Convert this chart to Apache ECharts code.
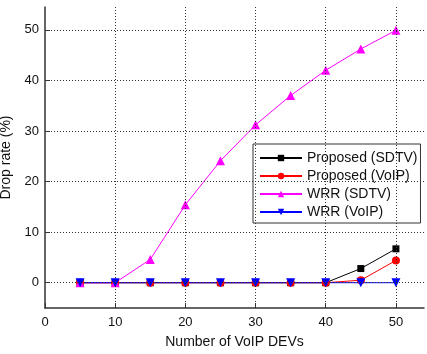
<!DOCTYPE html>
<html>
<head>
<meta charset="utf-8">
<script src="https://cdn.jsdelivr.net/npm/echarts@6/dist/echarts.min.js"></script>
<style>
html, body { margin: 0; padding: 0; background: #fff; }
#main { width: 427px; height: 354px; }
</style>
</head>
<body>
<div id="main"></div>
<script>
// x positions: number of VoIP devices
var devs = [5, 10, 15, 20, 25, 30, 35, 40, 45, 50];
// drop rate (%) per series
var propSdtv = [0, 0, 0, 0, 0, 0, 0, 0, 2.8, 6.7];
var propVoip = [0, 0, 0, 0, 0, 0, 0, 0, 0.5, 4.4];
var wrrSdtv = [0, 0, 4.6, 15.4, 24.1, 31.2, 37, 42, 46.2, 49.9];
var wrrVoip = [0, 0, 0, 0, 0, 0, 0, 0, 0, 0];
var xTicks = [0, 10, 20, 30, 40, 50];
var yTicks = [0, 10, 20, 30, 40, 50];
var names = ['Proposed (SDTV)', 'Proposed (VoIP)', 'WRR (SDTV)', 'WRR (VoIP)'];

function pairs(ys) {
	var out = [];
	for (var i = 0; i < devs.length; i++) {
		out.push([devs[i], ys[i]]);
	}
	return out;
}

var font = 'Liberation Sans, Arial, sans-serif';
var dotted = { color: '#333', width: 1, type: [1, 2] };

// grid lines drawn as mark lines so they sit only on the labelled ticks
var gridLines = [];
for (var i = 0; i < yTicks.length; i++) gridLines.push({ yAxis: yTicks[i] });
for (var j = 1; j < xTicks.length; j++) gridLines.push({ xAxis: xTicks[j] });

function lineSeries(name, ys, color, symbol, rotate, size) {
	return {
		name: name,
		type: 'line',
		data: pairs(ys),
		symbol: symbol,
		symbolRotate: rotate,
		symbolSize: size,
		showAllSymbol: true,
		lineStyle: { color: color, width: 1 },
		itemStyle: { color: color },
		emphasis: { disabled: true },
		z: 3
	};
}

var myChart = echarts.init(document.getElementById('main'));
myChart.setOption({
	animation: false,
	textStyle: { fontFamily: font },
	grid: { left: 45, right: 3, top: 7, bottom: 46, containLabel: false, outerBoundsMode: 'none' },
	legend: {
		data: names,
		orient: 'vertical',
		left: 253,
		top: 144,
		padding: [6, 3, 3, 6],
		itemGap: 2,
		itemWidth: 42,
		itemHeight: 8,
		backgroundColor: '#fff',
		borderColor: '#333',
		borderWidth: 1,
		borderRadius: 0,
		textStyle: { fontSize: 14, lineHeight: 16, color: '#111', fontFamily: font }
	},
	xAxis: {
		type: 'value',
		min: 0,
		max: 54,
		name: 'Number of VoIP DEVs',
		nameLocation: 'middle',
		nameGap: 27,
		nameTextStyle: { fontSize: 14, color: '#111' },
		axisLine: { onZero: false, lineStyle: { color: '#333', width: 1.5 } },
		axisTick: { inside: true, length: 5, customValues: xTicks, lineStyle: { color: '#333' } },
		minorTick: { show: false },
		axisLabel: { customValues: xTicks, fontSize: 13, color: '#111', margin: 8 },
		splitLine: { show: false }
	},
	yAxis: {
		type: 'value',
		min: -5,
		max: 54.5,
		name: 'Drop rate (%)',
		nameLocation: 'middle',
		nameGap: 24,
		nameTextStyle: { fontSize: 14, color: '#111' },
		axisLine: { show: true, onZero: false, lineStyle: { color: '#333', width: 1.5 } },
		axisTick: { show: true, inside: true, length: 5, customValues: yTicks, lineStyle: { color: '#333' } },
		axisLabel: { customValues: yTicks, fontSize: 13, color: '#111', margin: 6 },
		splitLine: { show: false }
	},
	series: [
		{
			name: 'gridlines',
			type: 'line',
			data: [],
			silent: true,
			z: 1,
			markLine: {
				silent: true,
				symbol: 'none',
				label: { show: false },
				lineStyle: dotted,
				emphasis: { disabled: true },
				data: gridLines
			}
		},
		lineSeries(names[0], propSdtv, '#000000', 'rect', 0, 7),
		lineSeries(names[1], propVoip, '#ff0000', 'circle', 0, 8),
		lineSeries(names[2], wrrSdtv, '#ff00ff', 'triangle', 0, 9),
		lineSeries(names[3], wrrVoip, '#0000ff', 'triangle', 180, 9)
	]
});
</script>
</body>
</html>
